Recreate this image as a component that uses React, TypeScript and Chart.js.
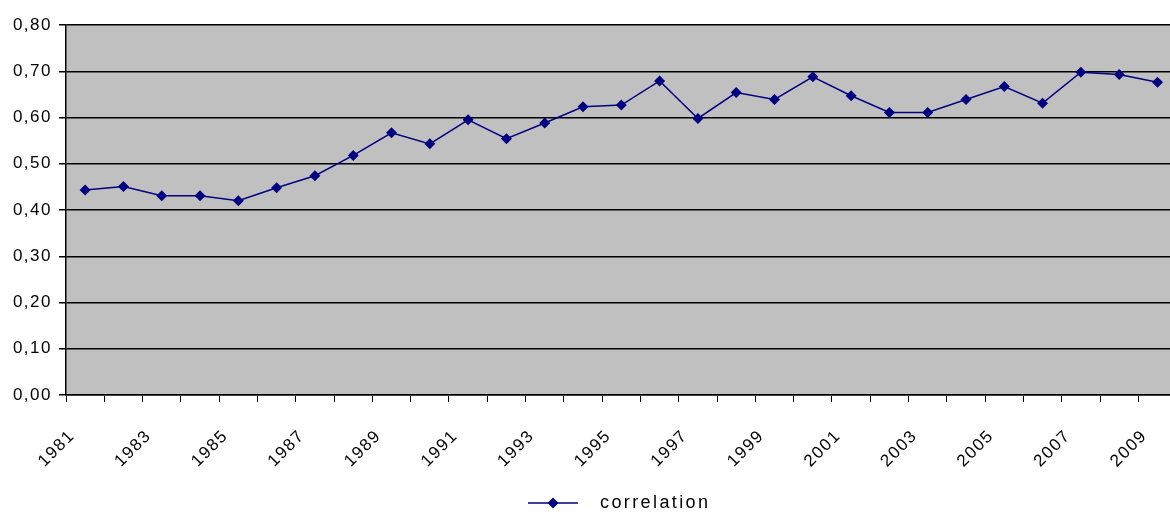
import React, { useEffect, useRef } from 'react';
import { Chart, registerables } from 'chart.js';

Chart.register(...registerables);

const years = [
  '1981', '1982', '1983', '1984', '1985', '1986', '1987', '1988', '1989', '1990',
  '1991', '1992', '1993', '1994', '1995', '1996', '1997', '1998', '1999', '2000',
  '2001', '2002', '2003', '2004', '2005', '2006', '2007', '2008', '2009',
];

const correlation = [
  0.443, 0.451, 0.431, 0.431, 0.420, 0.448, 0.474, 0.518, 0.567, 0.543,
  0.595, 0.554, 0.588, 0.623, 0.627, 0.679, 0.598, 0.654, 0.639, 0.688,
  0.647, 0.611, 0.611, 0.639, 0.667, 0.631, 0.698, 0.693, 0.676,
];

const seriesLabel = 'correlation';
const yMin = 0;
const yMax = 0.8;
const yStep = 0.1;

const NAVY = '#000080';
const FONT = 'Liberation Sans, Arial, sans-serif';

const plotBackground = {
  id: 'plotBackground',
  beforeDraw(chart: any) {
    const { ctx, chartArea } = chart;
    ctx.save();
    ctx.fillStyle = '#C0C0C0';
    ctx.fillRect(chartArea.left, chartArea.top, chartArea.right - chartArea.left, chartArea.bottom - chartArea.top);
    ctx.restore();
    (ctx as any).letterSpacing = '1.5px';
  },
  afterDraw(chart: any) {
    const { ctx } = chart;
    ctx.save();
    const y = 503;
    ctx.strokeStyle = NAVY;
    ctx.lineWidth = 1.5;
    ctx.beginPath();
    ctx.moveTo(528, y);
    ctx.lineTo(578, y);
    ctx.stroke();
    ctx.fillStyle = NAVY;
    ctx.beginPath();
    ctx.moveTo(553, y - 5.5);
    ctx.lineTo(558.5, y);
    ctx.lineTo(553, y + 5.5);
    ctx.lineTo(547.5, y);
    ctx.closePath();
    ctx.fill();
    (ctx as any).letterSpacing = '2.4px';
    ctx.fillStyle = '#000';
    ctx.font = `18px ${FONT}`;
    ctx.textAlign = 'left';
    ctx.textBaseline = 'middle';
    ctx.fillText(chart.data.datasets[0].label, 600, y);
    ctx.restore();
    (ctx as any).letterSpacing = '0px';
  },
};

export default function App() {
  const canvasRef = useRef<HTMLCanvasElement | null>(null);

  useEffect(() => {
    if (!canvasRef.current) return;
    const chart = new Chart(canvasRef.current, {
      type: 'line',
      data: {
        labels: years,
        datasets: [
          {
            label: seriesLabel,
            data: correlation,
            borderColor: NAVY,
            backgroundColor: NAVY,
            borderWidth: 1.5,
            pointStyle: 'rectRot',
            pointRadius: 5.5,
            pointBorderWidth: 0,
            pointBackgroundColor: NAVY,
            tension: 0,
          },
        ],
      },
      options: {
        animation: false,
        responsive: false,
        maintainAspectRatio: false,
        layout: { padding: { top: 25, right: 0, bottom: 0, left: 0 } },
        plugins: {
          legend: { display: false },
          tooltip: { enabled: false },
        },
        scales: {
          x: {
            offset: true,
            grid: {
              offset: true,
              drawOnChartArea: false,
              drawTicks: true,
              tickLength: 7,
              color: '#000',
              lineWidth: 1,
            },
            border: { color: '#000', width: 1.5 },
            ticks: {
              autoSkip: false,
              minRotation: 45,
              maxRotation: 45,
              labelOffset: -13,
              padding: 24,
              color: '#000',
              font: { family: FONT, size: 17 },
              callback: (_v: any, i: number) => (i % 2 === 0 ? years[i] : ''),
            },
            afterFit: (s: any) => {
              s.height = 119;
            },
          },
          y: {
            min: yMin,
            max: yMax,
            grid: { color: '#000', lineWidth: 1.5, tickLength: 7 },
            border: { color: '#000', width: 1.5 },
            ticks: {
              stepSize: yStep,
              padding: 7,
              color: '#000',
              font: { family: FONT, size: 17 },
              callback: (v: any) => Number(v).toFixed(2).replace('.', ','),
            },
            afterFit: (s: any) => {
              s.width = 66;
            },
          },
        },
      },
      plugins: [plotBackground],
    });
    return () => chart.destroy();
  }, []);

  return (
    <div style={{ position: 'absolute', left: 0, top: 0, width: 1170, height: 514, overflow: 'hidden', background: '#fff' }}>
      <canvas ref={canvasRef} width={1196} height={514} style={{ display: 'block', width: 1196, height: 514 }} />
    </div>
  );
}
